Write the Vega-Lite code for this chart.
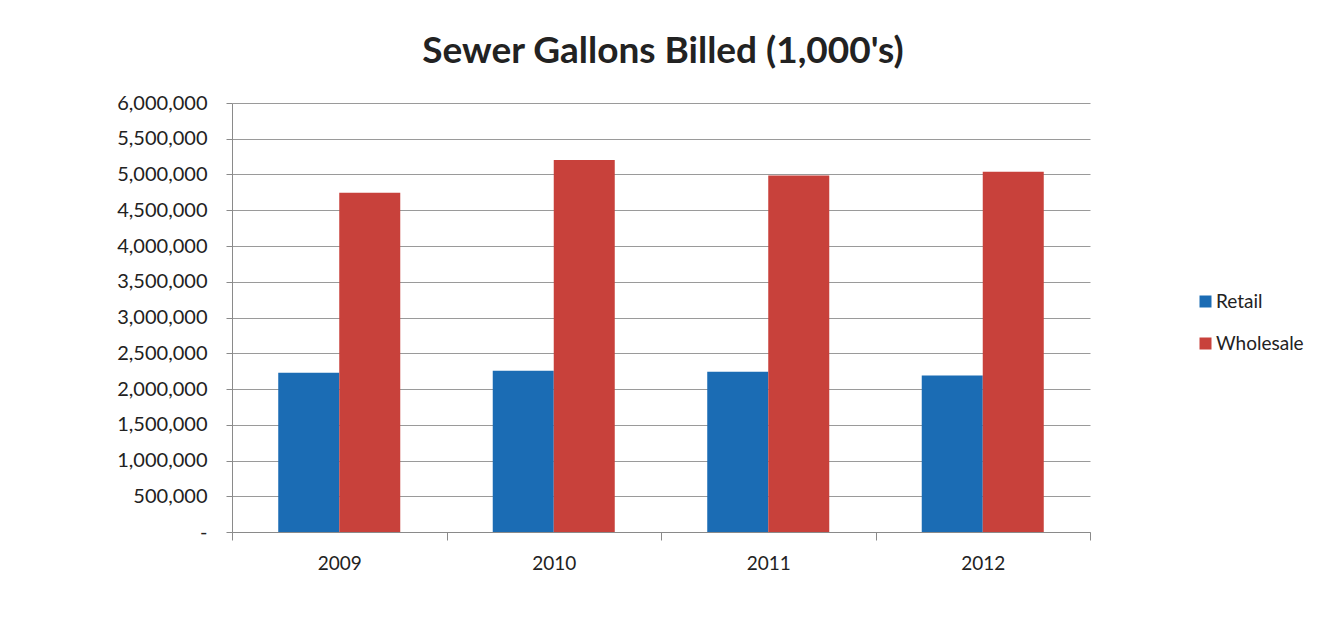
{
  "$schema": "https://vega.github.io/schema/vega-lite/v6.json",
  "width": 858,
  "height": 429,
  "autosize": {"type": "none"},
  "padding": {"left": 232, "top": 103, "right": 249, "bottom": 99},
  "background": "white",
  "title": {
    "text": "Sewer Gallons Billed (1,000's)",
    "font": "Lato",
    "fontSize": 37,
    "fontWeight": "bold",
    "color": "#222222",
    "anchor": "middle",
    "frame": "group",
    "baseline": "alphabetic",
    "offset": -7,
    "dx": 2
  },
  "data": {
    "values": [
      {"year": "2009", "series": "Retail", "gallons": 2228000},
      {"year": "2009", "series": "Wholesale", "gallons": 4745000},
      {"year": "2010", "series": "Retail", "gallons": 2256000},
      {"year": "2010", "series": "Wholesale", "gallons": 5203000},
      {"year": "2011", "series": "Retail", "gallons": 2240000},
      {"year": "2011", "series": "Wholesale", "gallons": 4985000},
      {"year": "2012", "series": "Retail", "gallons": 2190000},
      {"year": "2012", "series": "Wholesale", "gallons": 5040000}
    ]
  },
  "mark": {"type": "bar"},
  "encoding": {
    "x": {
      "field": "year",
      "type": "nominal",
      "scale": {"paddingInner": 0, "paddingOuter": 0},
      "axis": {
        "title": null,
        "labelAngle": 0,
        "tickBand": "extent",
        "tickSize": 8,
        "tickColor": "#8a8a8a",
        "domainColor": "#8a8a8a",
        "labelFont": "Lato",
        "labelFontSize": 19,
        "labelColor": "#222222",
        "labelPadding": 14,
        "grid": false
      }
    },
    "xOffset": {
      "field": "series",
      "scale": {"paddingInner": 0, "paddingOuter": 0.758}
    },
    "y": {
      "field": "gallons",
      "type": "quantitative",
      "scale": {"domain": [0, 6000000], "nice": false},
      "axis": {
        "title": null,
        "values": [0, 500000, 1000000, 1500000, 2000000, 2500000, 3000000, 3500000, 4000000, 4500000, 5000000, 5500000, 6000000],
        "labelExpr": "datum.value == 0 ? '-' : format(datum.value, ',')",
        "tickSize": 6,
        "tickColor": "#8a8a8a",
        "domainColor": "#8a8a8a",
        "gridColor": "#9a9a9a",
        "gridWidth": 1,
        "labelFont": "Lato",
        "labelFontSize": 20,
        "labelColor": "#222222",
        "labelPadding": 19
      }
    },
    "color": {
      "field": "series",
      "type": "nominal",
      "scale": {"domain": ["Retail", "Wholesale"], "range": ["#1b6cb4", "#c8413b"]},
      "legend": {
        "title": null,
        "orient": "none",
        "legendX": 964,
        "legendY": 189,
        "symbolType": "square",
        "symbolSize": 144,
        "symbolStrokeWidth": 0,
        "labelFont": "Lato",
        "labelFontSize": 19,
        "labelColor": "#222222",
        "labelOffset": 1,
        "rowPadding": 22
      }
    }
  },
  "config": {
    "view": {"stroke": null},
    "axis": {"domainWidth": 1, "tickWidth": 1}
  }
}
